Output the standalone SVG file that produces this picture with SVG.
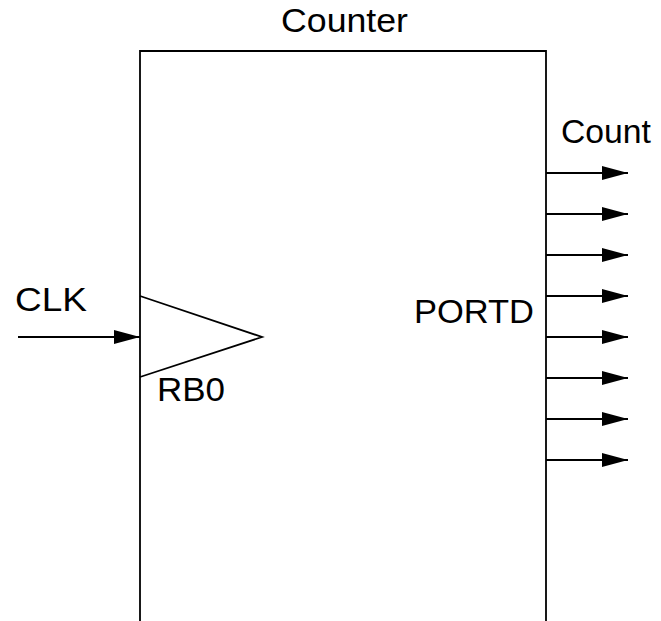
<svg xmlns="http://www.w3.org/2000/svg" width="661" height="621" viewBox="0 0 661 621">
  <style>
    .ln { fill: none; stroke: #000; stroke-width: 1.8; }
    .lbl { font-family: "Liberation Sans", Arial, sans-serif; font-size: 32.5px; fill: #000; }
  </style>
  <defs>
    <marker id="arrow" markerUnits="userSpaceOnUse" markerWidth="26" markerHeight="14" refX="26" refY="7" orient="auto">
      <path d="M0,0 L26,7 L0,14 Z" fill="#000"/>
    </marker>
  </defs>
  <rect width="661" height="621" fill="#fff"/>

  <!-- Counter block: open at the bottom edge -->
  <g id="counter">
    <path class="ln" d="M140,621 V51 H546 V621"/>
    <text class="lbl" x="281" y="32" textLength="127" lengthAdjust="spacingAndGlyphs">Counter</text>
  </g>

  <!-- Clock input triangle -->
  <g id="clock-input">
    <path class="ln" d="M140,296 L262,337 L140,377"/>
    <text class="lbl" x="157" y="401" textLength="68" lengthAdjust="spacingAndGlyphs">RB0</text>
  </g>

  <g id="clk-label">
    <text class="lbl" x="15" y="311" textLength="72" lengthAdjust="spacingAndGlyphs">CLK</text>
  </g>

  <g id="portd">
    <text class="lbl" x="414" y="323" textLength="120" lengthAdjust="spacingAndGlyphs">PORTD</text>
    <text class="lbl" x="561" y="143" textLength="90" lengthAdjust="spacingAndGlyphs">Count</text>
  </g>

  <g id="connectors">
    <line class="ln" x1="18" y1="337" x2="140" y2="337" marker-end="url(#arrow)"/>
    <line class="ln" x1="546" y1="173" x2="628" y2="173" marker-end="url(#arrow)"/>
    <line class="ln" x1="546" y1="214" x2="628" y2="214" marker-end="url(#arrow)"/>
    <line class="ln" x1="546" y1="255" x2="628" y2="255" marker-end="url(#arrow)"/>
    <line class="ln" x1="546" y1="296" x2="628" y2="296" marker-end="url(#arrow)"/>
    <line class="ln" x1="546" y1="337" x2="628" y2="337" marker-end="url(#arrow)"/>
    <line class="ln" x1="546" y1="378" x2="628" y2="378" marker-end="url(#arrow)"/>
    <line class="ln" x1="546" y1="419" x2="628" y2="419" marker-end="url(#arrow)"/>
    <line class="ln" x1="546" y1="460" x2="628" y2="460" marker-end="url(#arrow)"/>
  </g>
</svg>
